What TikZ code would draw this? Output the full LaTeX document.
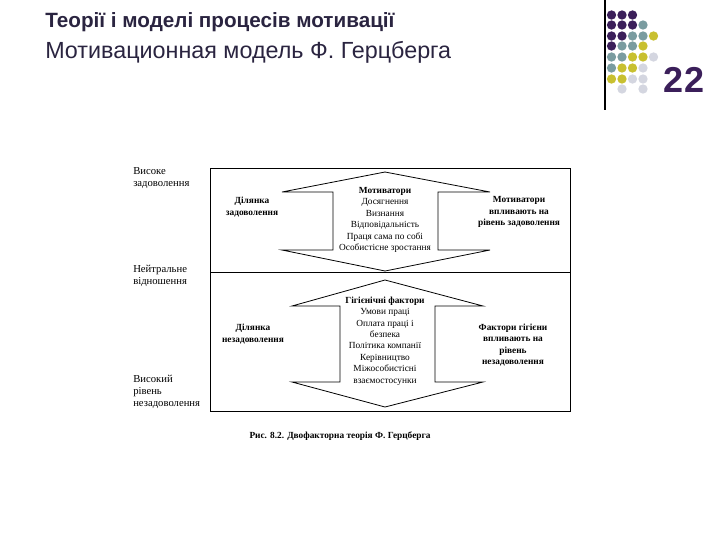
\documentclass[tikz,border=0pt]{standalone}
\usepackage{fontspec}
\setmainfont{Liberation Serif}
\newfontfamily\ttl{Liberation Sans}
\definecolor{dp}{HTML}{3B1F5A}
\definecolor{dt}{HTML}{7A9CA0}
\definecolor{dy}{HTML}{C8C030}
\definecolor{dl}{HTML}{D4D6E0}
\definecolor{tc}{HTML}{2A2440}
\begin{document}
\begin{tikzpicture}[x=0.75pt,y=-0.75pt,
  lab/.style={font=\fontsize{8}{9}\selectfont,align=left,anchor=west,inner sep=0},
  ctr/.style={font=\fontsize{7}{8.6}\selectfont,align=center,inner sep=0},
  bctr/.style={font=\fontsize{7}{8.6}\selectfont\bfseries,align=center,inner sep=0},
  arr/.style={draw=black,line width=0.6pt},
  dot/.style={circle,inner sep=0,minimum size=7pt}]
\path[use as bounding box] (0,0) rectangle (720,540);
\node[anchor=west,inner sep=0,text=tc,font=\ttl\fontsize{15.5}{18}\selectfont\bfseries] (t1) at (45,22) {Теорії і моделі процесів мотивації};
\node[anchor=west,inner sep=0,text=tc,font=\ttl\fontsize{17.5}{20}\selectfont] (t2) at (45,52) {Мотивационная модель Ф. Герцберга};
\draw[line width=1pt] (605,0) -- (605,110);
\node[text=dp,font=\ttl\fontsize{27}{30}\selectfont\bfseries,inner sep=0] (num) at (684,80) {22};
\foreach \r/\cols in {15/{1/dp,2/dp,3/dp},25/{1/dp,2/dp,3/dp,4/dt},36/{1/dp,2/dp,3/dt,4/dt,5/dy},46/{1/dp,2/dt,3/dt,4/dy},57/{1/dt,2/dt,3/dy,4/dy,5/dl},68/{1/dt,2/dy,3/dy,4/dl},79/{1/dy,2/dy,3/dl,4/dl},89/{2/dl,4/dl}}{
  \foreach \c/\col in \cols { \node[dot,fill=\col] at (601+10.5*\c,\r) {}; }
}
% frame
\draw[line width=0.7pt] (210,168) rectangle (570,411);
\draw[line width=0.7pt] (210,272) -- (570,272);
% top arrow
\draw[arr] (333,192) -- (282,192) -- (385,172) -- (490,192) -- (438,192) -- (438,250) -- (490,250) -- (385,271) -- (282,250) -- (333,250) -- cycle;
% bottom arrow
\draw[arr] (340,306) -- (292,306) -- (385,280) -- (483,306) -- (435,306) -- (435,382) -- (483,382) -- (385,407) -- (292,382) -- (340,382) -- cycle;
\node[lab] (l1) at (133,178) {Високе\\задоволення};
\node[lab] (l2) at (133,276) {Нейтральне\\відношення};
\node[lab] (l3) at (133,392) {Високий\\рівень\\незадоволення};
\node[bctr] (a1) at (252,207) {Ділянка\\задоволення};
\node[ctr] (m1) at (385,220) {\textbf{Мотиватори}\\Досягнення\\Визнання\\Відповідальність\\Праця сама по собі\\Особистісне зростання};
\node[bctr] (r1) at (519,212) {Мотиватори\\впливають на\\рівень задоволення};
\node[bctr] (a2) at (253,334) {Ділянка\\незадоволення};
\node[ctr] (m2) at (385,341) {\textbf{Гігієнічні фактори}\\Умови праці\\Оплата праці і\\безпека\\Політика компанії\\Керівництво\\Міжособистісні\\взаємостосунки};
\node[bctr] (r2) at (513,345) {Фактори гігієни\\впливають на\\рівень\\незадоволення};
\node[bctr] (cap) at (340,436) {Рис. 8.2. Двофакторна теорія Ф. Герцберга};
\end{tikzpicture}
\end{document}
